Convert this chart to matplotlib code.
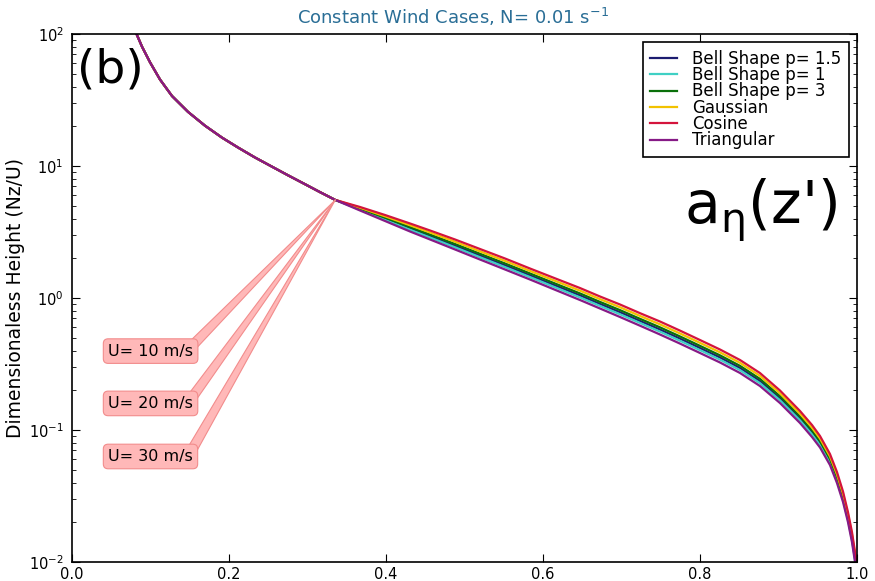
import matplotlib
matplotlib.use("Agg")
import matplotlib.pyplot as plt

# upper part of the profile, identical for every mountain shape
a_upper = [0.0752, 0.0822, 0.0892, 0.0994, 0.1121, 0.1274, 0.1478, 0.1694,
           0.1911, 0.2115, 0.2331, 0.2548, 0.2752, 0.2968, 0.3159, 0.3354]
z_upper = [129.4, 100.0, 80.1, 61.0, 45.2, 33.9, 25.7, 20.2, 16.4, 13.8,
           11.6, 9.88, 8.50, 7.28, 6.34, 5.53]

# lower part: common a values, height of each case
a_lower = [0.3669, 0.3987, 0.4306, 0.4561, 0.4879, 0.5197, 0.5516, 0.5834,
           0.6153, 0.6471, 0.6726, 0.6981, 0.7236, 0.7490, 0.7745, 0.8000,
           0.8255, 0.8510, 0.8764, 0.9019, 0.9274, 0.9427, 0.9529, 0.9656,
           0.9745, 0.9822, 0.9885, 0.9936, 0.9975, 0.9994]

z_tri = [4.601, 3.832, 3.190, 2.775, 2.331, 1.957, 1.644, 1.381, 1.154,
         0.9656, 0.8326, 0.7178, 0.6168, 0.5292, 0.4514, 0.3831, 0.3246,
         0.2703, 0.2154, 0.1601, 0.1130, 0.0885, 0.0737, 0.0543, 0.0397,
         0.0285, 0.0201, 0.01418, 0.0100, 0.00797]
z_bell1 = [4.663, 3.921, 3.289, 2.873, 2.422, 2.037, 1.715, 1.441, 1.206,
           1.011, 0.8718, 0.7531, 0.6471, 0.5563, 0.4745, 0.4027, 0.3412,
           0.2841, 0.2264, 0.1680, 0.1183, 0.09267, 0.07702, 0.05664,
           0.04141, 0.02967, 0.02089, 0.01474, 0.01039, 0.00828]
z_bell15 = [4.709, 3.988, 3.364, 2.946, 2.491, 2.098, 1.768, 1.485, 1.245,
            1.046, 0.9015, 0.7798, 0.6701, 0.5768, 0.4920, 0.4176, 0.3538,
            0.2946, 0.2348, 0.1739, 0.1224, 0.09583, 0.07954, 0.05841,
            0.04270, 0.03055, 0.02148, 0.01515, 0.01069, 0.00852]
z_bell3 = [4.758, 4.059, 3.445, 3.025, 2.566, 2.164, 1.827, 1.535, 1.288,
           1.083, 0.9342, 0.8093, 0.6954, 0.5995, 0.5114, 0.4340, 0.3677,
           0.3062, 0.2440, 0.1805, 0.1268, 0.09930, 0.08229, 0.06034,
           0.04411, 0.03152, 0.02212, 0.01561, 0.01101, 0.00877]
z_gauss = [4.825, 4.158, 3.557, 3.137, 2.671, 2.257, 1.909, 1.604, 1.349,
           1.137, 0.9802, 0.8509, 0.7312, 0.6316, 0.5388, 0.4572, 0.3874,
           0.3226, 0.2571, 0.1898, 0.1330, 0.1042, 0.08618, 0.06306,
           0.04611, 0.03287, 0.02303, 0.01625, 0.01146, 0.00913]
z_cosine = [4.891, 4.254, 3.668, 3.246, 2.775, 2.351, 1.992, 1.673, 1.410,
            1.190, 1.0266, 0.8929, 0.7672, 0.6638, 0.5662, 0.4805, 0.4072,
            0.3390, 0.2702, 0.1992, 0.1393, 0.1091, 0.09005, 0.06578,
            0.04809, 0.03420, 0.02392, 0.01688, 0.01191, 0.00949]

labels = ["Bell Shape p= 1.5", "Bell Shape p= 1", "Bell Shape p= 3",
          "Gaussian", "Cosine", "Triangular"]
colors = ["#1c1c70", "#3fd0c4", "#0a700a", "#f2c200", "#d4143c", "#861a86"]
heights = [z_bell15, z_bell1, z_bell3, z_gauss, z_cosine, z_tri]

wind_labels = ["U= 10 m/s", "U= 20 m/s", "U= 30 m/s"]
wind_box_z = [0.396, 0.159, 0.063]

fig = plt.figure(figsize=(8.75, 5.81), dpi=100)
ax = fig.add_axes([0.0823, 0.0327, 0.8971, 0.9088])

a_all = a_upper + a_lower
for z_low, lab, col in zip(heights, labels, colors):
    ax.plot(a_all, z_upper + z_low, color=col, lw=1.6, label=lab)

ax.set_yscale("log")
ax.set_xlim(0, 1)
ax.set_ylim(1e-2, 1e2)
ax.set_xticks([0.0, 0.2, 0.4, 0.6, 0.8, 1.0])
ax.set_xticklabels(["0.0", "0.2", "0.4", "0.6", "0.8", "1.0"])
ax.tick_params(which="both", direction="in", top=True, right=True, labelsize=10.5)
ax.tick_params(axis="y", pad=6)
ax.tick_params(which="major", length=6)
ax.tick_params(which="minor", length=3)
for sp in ax.spines.values():
    sp.set_linewidth(1.2)

ax.set_title("Constant Wind Cases, N= 0.01 s$^{-1}$", color="#2a6e96",
             fontsize=13, pad=7, x=0.485)
ax.set_ylabel("Dimensionaless Height (Nz/U)", fontsize=13.5, labelpad=3)

leg = ax.legend(loc="upper right", fontsize=12, fancybox=False, framealpha=1,
                edgecolor="black", labelspacing=-0.1, handlelength=1.6,
                handletextpad=0.9, borderaxespad=0.5, borderpad=0.45)
leg.get_frame().set_linewidth(1.2)

ax.text(0.006, 0.975, "(b)", transform=ax.transAxes, fontsize=34,
        ha="left", va="top")
ax.text(0.975, 0.665, r"$\mathregular{a_{\eta}}$(z')", transform=ax.transAxes,
        fontsize=42, ha="right", va="center")

# pink callouts pointing at the split point of the profiles
split = (a_upper[-1], z_upper[-1])
for lab, zb in zip(wind_labels, wind_box_z):
    ax.annotate(lab, xy=split, xycoords="data",
                xytext=(0.046, zb), textcoords=("axes fraction", "data"),
                fontsize=11.5, ha="left", va="center",
                bbox=dict(boxstyle="round,pad=0.3", fc=(1.0, 0.72, 0.72),
                          ec=(0.95, 0.55, 0.55), lw=0.8),
                arrowprops=dict(arrowstyle="wedge,tail_width=0.6",
                                fc=(1.0, 0.72, 0.72), ec=(0.95, 0.55, 0.55),
                                lw=0.8, relpos=(0.97, 0.75), patchA=None,
                                shrinkB=0))

fig.savefig("out.png", dpi=100)
